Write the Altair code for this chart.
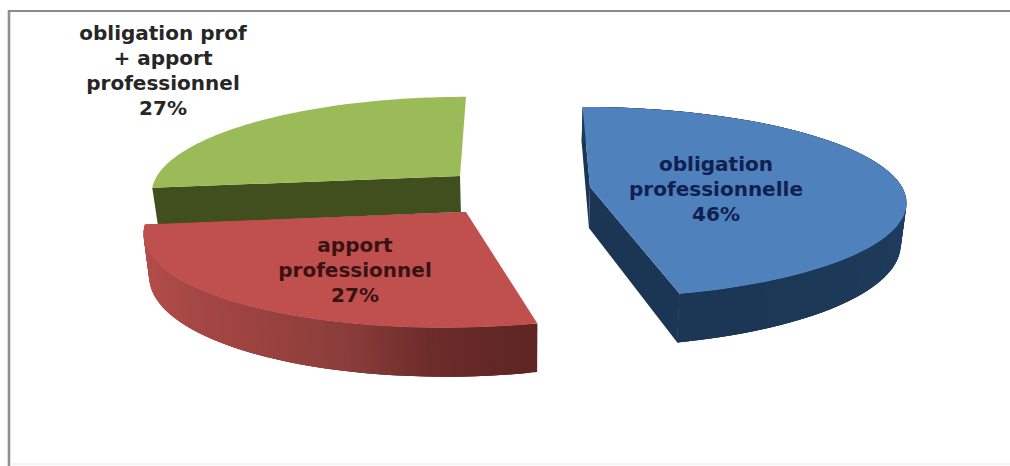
import math
import altair as alt
import pandas as pd

# Share of each motive, in percent, clockwise from twelve o'clock
categories = ["obligation\nprofessionnelle", "apport\nprofessionnel", "obligation prof\n+ apport\nprofessionnel"]
values = [46, 27, 27]

TOP_COLORS = ["#4f81bd", "#c0504d", "#9bbb59"]
LABEL_COLORS = ["#10204f", "#3a1214", "#262626"]
WALL_STOPS = [
    [(0.0, "#1d3a5b"), (0.55, "#1f3d60"), (0.85, "#1c3857"), (1.0, "#1c3654")],
    [(0.0, "#5f2624"), (0.15, "#6c2c2a"), (0.28, "#8a3d3a"), (0.49, "#9e4441"), (0.77, "#b04c49"), (1.0, "#b54e4b")],
    [(0.0, "#414f1f"), (1.0, "#414f1f")],
]
CUT_FACE_COLORS = ["#1b3554", "#6a2b29", "#414f1f"]

# Perspective set-up of each exploded wedge: rim centre, radii, foreshortening, wall height,
# and how far the apex sits from the rim centre
WEDGE_VIEW = [
    dict(x0=584, y0=187, a=318.0, b=93, k=0.162, s=10, depth=41, apex_dx=6, arc_wall=True, faces=(0, 1)),
    dict(x0=466, y0=212, a=314.6, b=97, k=0.162, s=-115, depth=41, apex_dx=0, arc_wall=True, faces=(1,)),
    dict(x0=460, y0=176, a=303.0, b=92, k=0.162, s=-43, depth=36, apex_dx=0, arc_wall=False, faces=(0,)),
]
WALL_AXIS_X = 520
WALL_CONVERGENCE = 0.985
# Top line of each label block
LABEL_ANCHORS = [(716, 165), (355, 246), (163, 34)]


def lerp_color(stops, t):
    for (t0, c0), (t1, c1) in zip(stops, stops[1:]):
        if t <= t1:
            u = (t - t0) / (t1 - t0)
            rgb = [round(int(c0[i:i + 2], 16) * (1 - u) + int(c1[i:i + 2], 16) * u) for i in (1, 3, 5)]
            return "#%02x%02x%02x" % tuple(rgb)
    return stops[-1][1]


def rim(view, theta):
    """Top-surface point on the wedge's circular rim at a clockwise angle in radians."""
    w = 1 + view["k"] * math.cos(theta)
    x = view["x0"] + (view["s"] + view["a"] * math.sin(theta)) / w - view["s"]
    y = view["y0"] - view["b"] * math.cos(theta) / w
    return x, y, w


def drop(view, x, y, w):
    """Matching point on the bottom surface, below a top-surface point."""
    return WALL_AXIS_X + (x - WALL_AXIS_X) * WALL_CONVERGENCE, y + view["depth"] / w


def polygon(points, fill):
    ring = [list(p) for p in points] + [list(points[0])]
    return {
        "type": "Feature",
        "properties": {"fill": fill},
        "geometry": {"type": "Polygon", "coordinates": [ring]},
    }


def wedge_features(start_pct, pct, view, top, wall_stops, cut_color):
    features = []
    t0 = start_pct / 100 * 2 * math.pi
    t1 = (start_pct + pct) / 100 * 2 * math.pi
    steps = 90
    thetas = [t0 + (t1 - t0) * i / steps for i in range(steps + 1)]
    rims = [rim(view, t) for t in thetas]
    apex = (view["x0"] + view["apex_dx"], view["y0"], 1.0)
    ends = (rims[0], rims[-1])

    # Cut faces first, then the curved wall, then the lid
    for face in view["faces"]:
        corner = ends[face]
        features.append(polygon(
            [corner[:2], apex[:2], drop(view, *apex), drop(view, *corner)],
            cut_color,
        ))
    if view["arc_wall"]:
        # Each strip reaches over the next one's start, so no seams show between them
        for i in range(steps - 1, -1, -1):
            a, b = rims[i], rims[min(i + 3, steps)]
            features.append(polygon(
                [a[:2], b[:2], drop(view, *b), drop(view, *a)],
                lerp_color(wall_stops, (i + 0.5) / steps),
            ))
    features.append(polygon([apex[:2]] + [r[:2] for r in rims], top))
    return features


# Painter's order: the green wedge sits behind the red one, blue stands apart
starts = [sum(values[:i]) for i in range(len(values))]
features = []
for i in (2, 1, 0):
    features += wedge_features(starts[i], values[i], WEDGE_VIEW[i], TOP_COLORS[i],
                               WALL_STOPS[i], CUT_FACE_COLORS[i])

pie = (
    alt.Chart(alt.InlineData(values=features))
    .mark_geoshape(strokeWidth=0)
    .encode(fill=alt.Fill("properties.fill:N", scale=None))
    .project(type="identity", scale=1, translate=[0, 0])
)

label_table = pd.DataFrame({
    "label": [f"{c}\n{v}%" for c, v in zip(categories, values)],
    "px": [c[0] for c in LABEL_ANCHORS],
    "py": [c[1] for c in LABEL_ANCHORS],
    "ink": LABEL_COLORS,
})
labels = (
    alt.Chart(label_table)
    .mark_text(font="DejaVu Sans", fontWeight="bold", fontSize=20, lineBreak="\n",
               lineHeight=25, align="center", baseline="middle")
    .encode(
        x=alt.X("px:Q", scale=None, axis=None),
        y=alt.Y("py:Q", scale=None, axis=None),
        text="label:N",
        color=alt.Color("ink:N", scale=None),
    )
)

# Frame of the chart area: heavy left and top edges, faint bottom edge
frame_table = pd.DataFrame({"edge": ["left", "top", "bottom"]})
frame_left = alt.Chart(frame_table.iloc[[0]]).mark_rule(color="#8f8f8f", strokeWidth=2.6).encode(
    x=alt.value(9), y=alt.value(10), y2=alt.value(466))
frame_top = alt.Chart(frame_table.iloc[[1]]).mark_rule(color="#8a8a8a", strokeWidth=2).encode(
    x=alt.value(8), x2=alt.value(1010), y=alt.value(11))
frame_bottom = alt.Chart(frame_table.iloc[[2]]).mark_rule(color="#efefef", strokeWidth=1.5).encode(
    x=alt.value(10), x2=alt.value(1010), y=alt.value(464))

chart = (
    alt.layer(pie, frame_left, frame_top, frame_bottom, labels)
    .properties(width=1010, height=466, padding=0, autosize=alt.AutoSizeParams(type="none"),
                background="white")
    .configure_view(stroke=None)
)

chart.save("out.html", embed_options={"renderer": "svg", "actions": False})
